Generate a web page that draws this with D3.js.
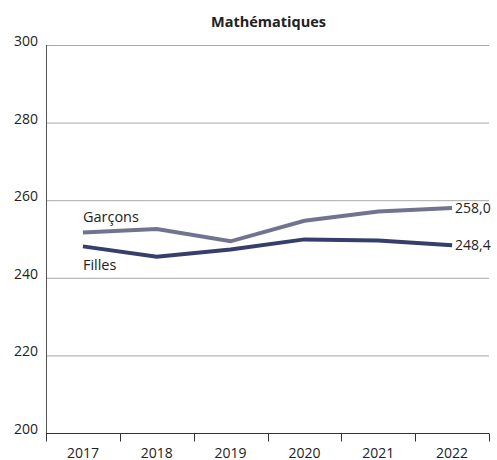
<!DOCTYPE html>
<html lang="fr">
<head>
  <meta charset="UTF-8">
  <title>Mathématiques</title>
  <script src="https://d3js.org/d3.v7.min.js"></script>
  <style>
    body { margin: 0; background: #fff; }
    svg { font-family: 'Open Sans', sans-serif; }
  </style>
</head>
<body>
  <div id="chart"></div>
  <script>
    // Data
    const years = ["2017", "2018", "2019", "2020", "2021", "2022"];
    const garcons = [251.7, 252.6, 249.4, 254.7, 257.1, 258.0];
    const filles = [248.1, 245.4, 247.3, 249.9, 249.6, 248.4];
    const yTicks = [200, 220, 240, 260, 280, 300];

    const width = 497, height = 460;
    const margin = { top: 45, right: 8, bottom: 27, left: 46 };

    const svg = d3.select("#chart").append("svg")
      .attr("width", width)
      .attr("height", height);

    const x = d3.scaleBand()
      .domain(years)
      .range([margin.left, width - margin.right]);

    const y = d3.scaleLinear()
      .domain([200, 300])
      .range([height - margin.bottom, margin.top]);

    // title
    svg.append("text")
      .attr("x", (margin.left + width - margin.right) / 2 + 1)
      .attr("y", 27)
      .attr("text-anchor", "middle")
      .style("font-size", "14.5px")
      .style("font-weight", "bold")
      .style("fill", "#222")
      .text("Mathématiques");

    // grid lines
    svg.append("g")
      .selectAll("line")
      .data(yTicks.filter(d => d > 200))
      .enter()
      .append("line")
      .attr("x1", margin.left)
      .attr("x2", width - margin.right)
      .attr("y1", d => y(d) + 0.5)
      .attr("y2", d => y(d) + 0.5)
      .style("stroke", "#a8a8a8")
      .style("stroke-width", 1);

    // y axis labels
    svg.append("g")
      .selectAll("text")
      .data(yTicks)
      .enter()
      .append("text")
      .attr("x", 38)
      .attr("y", d => y(d) + 1)
      .attr("text-anchor", "end")
      .style("font-size", "14px")
      .style("fill", "#222")
      .text(d => d);

    // y axis line
    svg.append("line")
      .attr("x1", margin.left + 0.5)
      .attr("x2", margin.left + 0.5)
      .attr("y1", y(300))
      .attr("y2", y(200))
      .style("stroke", "#555")
      .style("stroke-width", 1);

    // x axis
    const xAxis = svg.append("g")
      .attr("transform", "translate(0," + (y(200) + 0.5) + ")");

    xAxis.append("line")
      .attr("x1", margin.left)
      .attr("x2", width - margin.right)
      .style("stroke", "#333")
      .style("stroke-width", 1.2);

    const edges = years.map(d => x(d)).concat([x(years[years.length - 1]) + x.bandwidth()]);
    xAxis.selectAll(".tick")
      .data(edges)
      .enter()
      .append("line")
      .attr("x1", d => Math.round(d) + 0.5)
      .attr("x2", d => Math.round(d) + 0.5)
      .attr("y1", 0)
      .attr("y2", 8)
      .style("stroke", "#333");

    xAxis.selectAll(".lbl")
      .data(years)
      .enter()
      .append("text")
      .attr("x", d => x(d) + x.bandwidth() / 2)
      .attr("y", 24)
      .attr("text-anchor", "middle")
      .style("font-size", "14px")
      .style("fill", "#222")
      .text(d => d);

    // lines
    const line = d3.line()
      .x((d, i) => x(years[i]) + x.bandwidth() / 2)
      .y(d => y(d));

    const series = [
      { name: "Garçons", values: garcons, color: "#72748f", labelDy: -10 },
      { name: "Filles", values: filles, color: "#363e6b", labelDy: 24 }
    ];

    series.forEach(s => {
      svg.append("path")
        .datum(s.values)
        .attr("d", line)
        .style("fill", "none")
        .style("stroke", s.color)
        .style("stroke-width", 4);

      const cx0 = x(years[0]) + x.bandwidth() / 2;
      svg.append("text")
        .attr("x", cx0)
        .attr("y", y(s.values[0]) + s.labelDy)
        .style("font-size", "14.5px")
        .style("fill", "#222")
        .text(s.name);

      const last = s.values[s.values.length - 1];
      svg.append("text")
        .attr("x", x(years[years.length - 1]) + x.bandwidth() / 2 + 3)
        .attr("y", y(last))
        .attr("dy", "0.35em")
        .style("font-size", "14px")
        .style("fill", "#222")
        .text(last.toFixed(1).replace(".", ","));
    });
  </script>
</body>
</html>
